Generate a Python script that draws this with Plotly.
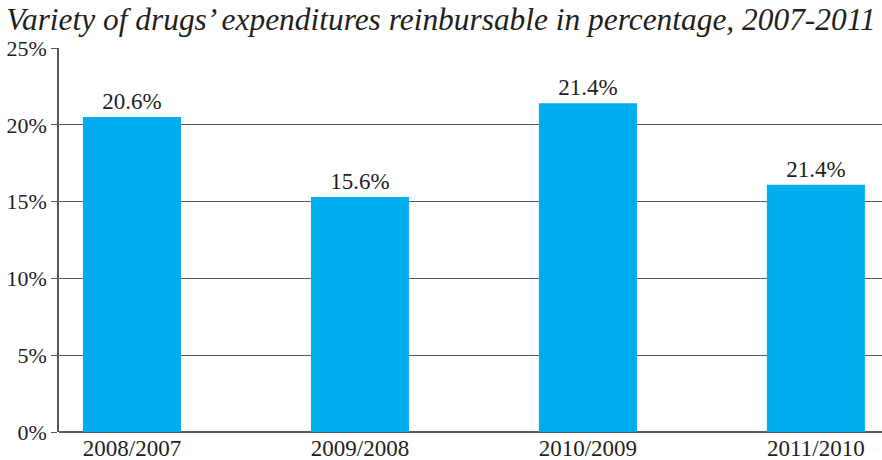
import plotly.graph_objects as go

categories = ["2008/2007", "2009/2008", "2010/2009", "2011/2010"]
values = [20.5, 15.3, 21.4, 16.1]
value_labels = ["20.6%", "15.6%", "21.4%", "21.4%"]
y_ticks = [0, 5, 10, 15, 20, 25]
y_tick_labels = ["0%", "5%", "10%", "15%", "20%", "25%"]
title = "Variety of drugs’ expenditures reinbursable in percentage, 2007-2011"

FONT = "Liberation Serif"
TXT = "#231f20"

fig = go.Figure(go.Bar(
    x=list(range(len(categories))),
    y=values,
    text=value_labels,
    textposition="outside",
    textfont=dict(family=FONT, size=23, color=TXT),
    marker=dict(color="#00aeef", line=dict(width=0)),
    width=0.43,
    cliponaxis=False,
))

fig.update_layout(
    width=882, height=460,
    margin=dict(l=59, r=0, t=48, b=28),
    plot_bgcolor="white", paper_bgcolor="white",
    showlegend=False,
    title=dict(text=f"<i>{title}</i>", x=0.5, xanchor="center", y=0.959, yanchor="middle",
               font=dict(family=FONT, size=31.4, color=TXT)),
    xaxis=dict(
        tickmode="array", tickvals=list(range(len(categories))), ticktext=categories,
        range=[-0.32, 3.29], showgrid=False, zeroline=False, showline=False,
        ticks="", tickfont=dict(family=FONT, size=23, color=TXT),
        automargin=False,
    ),
    yaxis=dict(
        tickmode="array", tickvals=y_ticks, ticktext=y_tick_labels,
        range=[0, 25], showgrid=True, gridcolor="#58595b", gridwidth=1.3,
        zeroline=True, zerolinecolor="#58595b", zerolinewidth=1.5,
        showline=True, linecolor="#58595b", linewidth=1.5,
        ticks="outside", ticklen=6, tickcolor="#58595b", tickwidth=1.3,
        tickfont=dict(family=FONT, size=22, color=TXT),
        automargin=False,
    ),
)

fig.write_html("out.html", config={"displayModeBar": False},
               post_script="document.body.style.margin='0';")
